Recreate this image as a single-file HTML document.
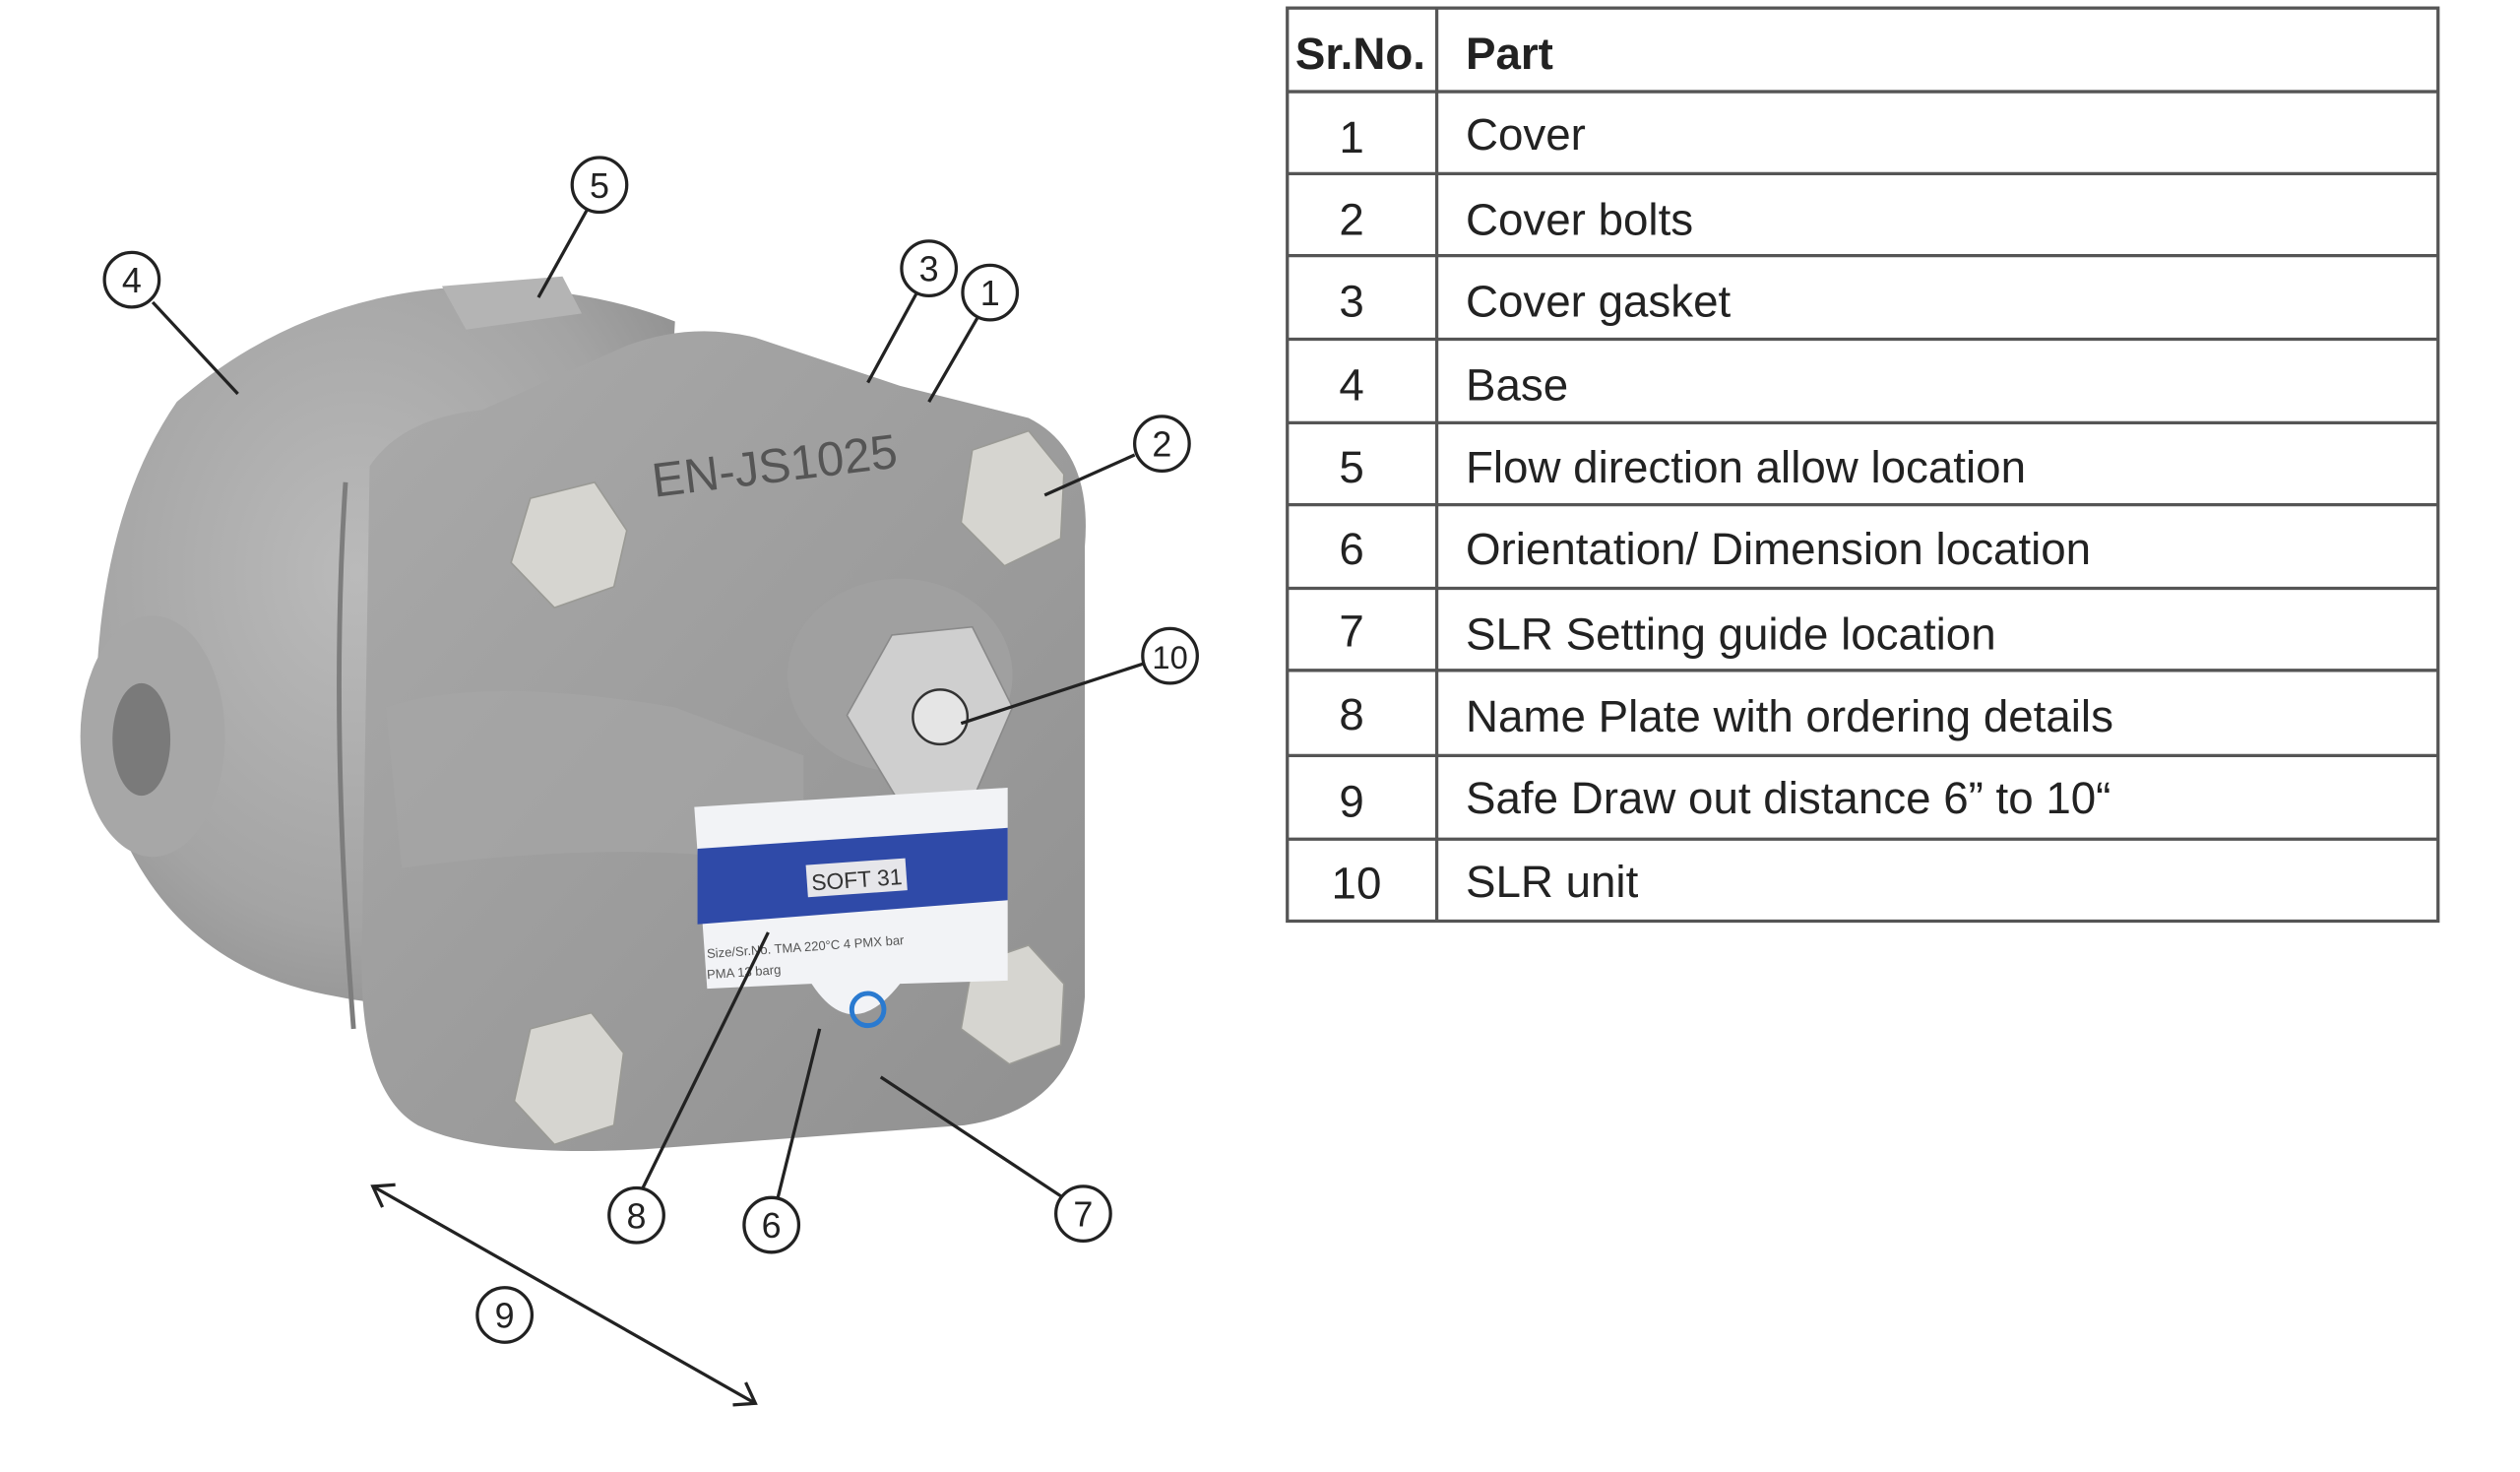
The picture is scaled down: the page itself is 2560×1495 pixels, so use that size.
<!DOCTYPE html>
<html><head><meta charset="utf-8"><style>
html,body{margin:0;padding:0;background:#fff;}
svg{display:block;}
</style></head><body>
<svg width="2560" height="1495" viewBox="0 0 1568 915.7" preserveAspectRatio="none" xmlns="http://www.w3.org/2000/svg" font-family="'Liberation Sans', sans-serif">
<defs>
<radialGradient id="sph" cx="0.45" cy="0.4" r="0.7">
<stop offset="0" stop-color="#bababa"/><stop offset="0.7" stop-color="#a4a4a4"/><stop offset="1" stop-color="#8e8e8e"/>
</radialGradient>
<linearGradient id="cov" x1="0" y1="0" x2="1" y2="1">
<stop offset="0" stop-color="#aaaaaa"/><stop offset="1" stop-color="#909090"/>
</linearGradient>
</defs>
<rect width="1568" height="916" fill="#fff"/>
<!-- base sphere -->
<path d="M110,250 Q190,180 300,178 Q370,180 420,200 L400,560 Q300,640 210,620 Q90,600 60,470 Q55,330 110,250 Z" fill="url(#sph)"/>
<!-- inlet -->
<ellipse cx="95" cy="458" rx="45" ry="75" fill="#a7a7a7"/>
<ellipse cx="88" cy="460" rx="18" ry="35" fill="#7a7a7a"/>
<!-- flow pad -->
<path d="M275,178 L350,172 L362,195 L290,205 Z" fill="#b4b4b4"/>
<!-- cover body -->
<path d="M230,290 Q250,260 300,255 L390,215 Q430,200 470,210 L560,240 L640,260 Q680,280 675,340 L675,620 Q670,690 600,700 L400,715 Q300,720 260,700 Q225,680 225,600 Z" fill="url(#cov)"/>
<path d="M240,440 Q300,420 420,440 L500,470 L500,540 Q400,520 250,540 Z" fill="#a6a6a6" opacity="0.6"/>
<path d="M215,300 Q205,450 220,640" stroke="#7d7d7d" stroke-width="3" fill="none"/>
<!-- boss -->
<ellipse cx="560" cy="420" rx="70" ry="60" fill="#a0a0a0"/>
<!-- bolts -->
<polygon points="330,310 370,300 390,330 382,365 345,378 318,350" fill="#d6d5d0" stroke="#9a9a95"/>
<polygon points="605,280 640,268 662,295 660,335 625,352 598,325" fill="#d6d5d0" stroke="#9a9a95"/>
<polygon points="605,600 640,588 662,612 660,650 628,662 598,640" fill="#d6d5d0" stroke="#9a9a95"/>
<polygon points="330,640 368,630 388,655 382,700 345,712 320,685" fill="#d6d5d0" stroke="#9a9a95"/>
<!-- SLR hex -->
<polygon points="555,395 605,390 630,440 605,498 560,500 527,445" fill="#cfcfcf" stroke="#8a8a8a"/>
<circle cx="585" cy="446" r="17" fill="#e5e5e5" stroke="#333" stroke-width="1.5"/>
<text x="482" y="300" font-size="30" fill="#555" transform="rotate(-7 482 290)" text-anchor="middle" font-family="'Liberation Sans Narrow','Liberation Sans',sans-serif">EN-JS1025</text>
<!-- name plate -->
<path d="M432,502 L627,490 L627,610 L560,612 Q530,650 505,612 L440,615 Z" fill="#f2f3f6"/>
<polygon points="434,528 627,515 627,560 434,575" fill="#2f4aa8"/>
<rect x="502" y="536" width="62" height="20" fill="#e6e6ea" transform="rotate(-4 533 546)"/>
<text x="533" y="552" font-size="14" fill="#333" text-anchor="middle" transform="rotate(-4 533 546)">SOFT 31</text>
<text x="440" y="596" font-size="8" fill="#555" transform="rotate(-4 440 596)">Size/Sr.No.   TMA 220°C  4 PMX  bar</text>
<text x="440" y="609" font-size="8" fill="#555" transform="rotate(-4 440 609)">PMA 13 barg</text>
<circle cx="540" cy="628" r="10" fill="none" stroke="#2a7ad0" stroke-width="3"/>
<!-- callout lines -->
<g stroke="#222" stroke-width="2" fill="none">
<line x1="95" y1="188" x2="148" y2="245"/>
<line x1="365" y1="131" x2="335" y2="185"/>
<line x1="570" y1="183" x2="540" y2="238"/>
<line x1="608" y1="198" x2="578" y2="250"/>
<line x1="706" y1="283" x2="650" y2="308"/>
<line x1="711" y1="413" x2="598" y2="450"/>
<line x1="400" y1="739" x2="478" y2="580"/>
<line x1="484" y1="745" x2="510" y2="640"/>
<line x1="660" y1="744" x2="548" y2="670"/>
<line x1="232" y1="738" x2="470" y2="873"/>
<polyline points="246,737 232,738 238,751"/>
<polyline points="456,874 470,873 464,860"/>
</g>
<g stroke="#222" stroke-width="2" fill="#fff" font-size="22" text-anchor="middle">
<circle cx="82" cy="174" r="17"/><circle cx="373" cy="115" r="17"/><circle cx="578" cy="167" r="17"/>
<circle cx="616" cy="182" r="17"/><circle cx="723" cy="276" r="17"/><circle cx="728" cy="408" r="17"/>
<circle cx="396" cy="756" r="17"/><circle cx="480" cy="762" r="17"/><circle cx="674" cy="755" r="17"/>
<circle cx="314" cy="818" r="17"/>
</g>
<g fill="#222" font-size="22" text-anchor="middle">
<text x="82" y="182">4</text><text x="373" y="123">5</text><text x="578" y="175">3</text>
<text x="616" y="190">1</text><text x="723" y="284">2</text><text x="728" y="416" font-size="20">10</text>
<text x="396" y="764">8</text><text x="480" y="770">6</text><text x="674" y="763">7</text>
<text x="314" y="826">9</text>
</g>
<!-- table -->
<g stroke="#555" stroke-width="2" fill="none">
<rect x="801" y="5" width="716" height="568"/>
<line x1="894" y1="5" x2="894" y2="573"/>
<line x1="801" y1="57" x2="1517" y2="57"/><line x1="801" y1="108" x2="1517" y2="108"/>
<line x1="801" y1="159" x2="1517" y2="159"/><line x1="801" y1="211" x2="1517" y2="211"/>
<line x1="801" y1="263" x2="1517" y2="263"/><line x1="801" y1="314" x2="1517" y2="314"/>
<line x1="801" y1="366" x2="1517" y2="366"/><line x1="801" y1="417" x2="1517" y2="417"/>
<line x1="801" y1="470" x2="1517" y2="470"/><line x1="801" y1="522" x2="1517" y2="522"/>
</g>
<g font-size="28" fill="#222">
<text x="806" y="43" font-weight="bold">Sr.No.</text><text x="912" y="43" font-weight="bold">Part</text>
<g text-anchor="middle">
<text x="841" y="95">1</text><text x="841" y="146">2</text><text x="841" y="197">3</text>
<text x="841" y="249">4</text><text x="841" y="300">5</text><text x="841" y="351">6</text>
<text x="841" y="402">7</text><text x="841" y="454">8</text><text x="841" y="508">9</text>
<text x="844" y="559">10</text>
</g>
<text x="912" y="93">Cover</text><text x="912" y="146">Cover bolts</text>
<text x="912" y="197">Cover gasket</text><text x="912" y="249">Base</text>
<text x="912" y="300">Flow direction allow location</text>
<text x="912" y="351">Orientation/ Dimension location</text>
<text x="912" y="404">SLR Setting guide location</text>
<text x="912" y="455">Name Plate with ordering details</text>
<text x="912" y="506">Safe Draw out distance 6” to 10“</text>
<text x="912" y="558">SLR unit</text>
</g>
</svg>
</body></html>
